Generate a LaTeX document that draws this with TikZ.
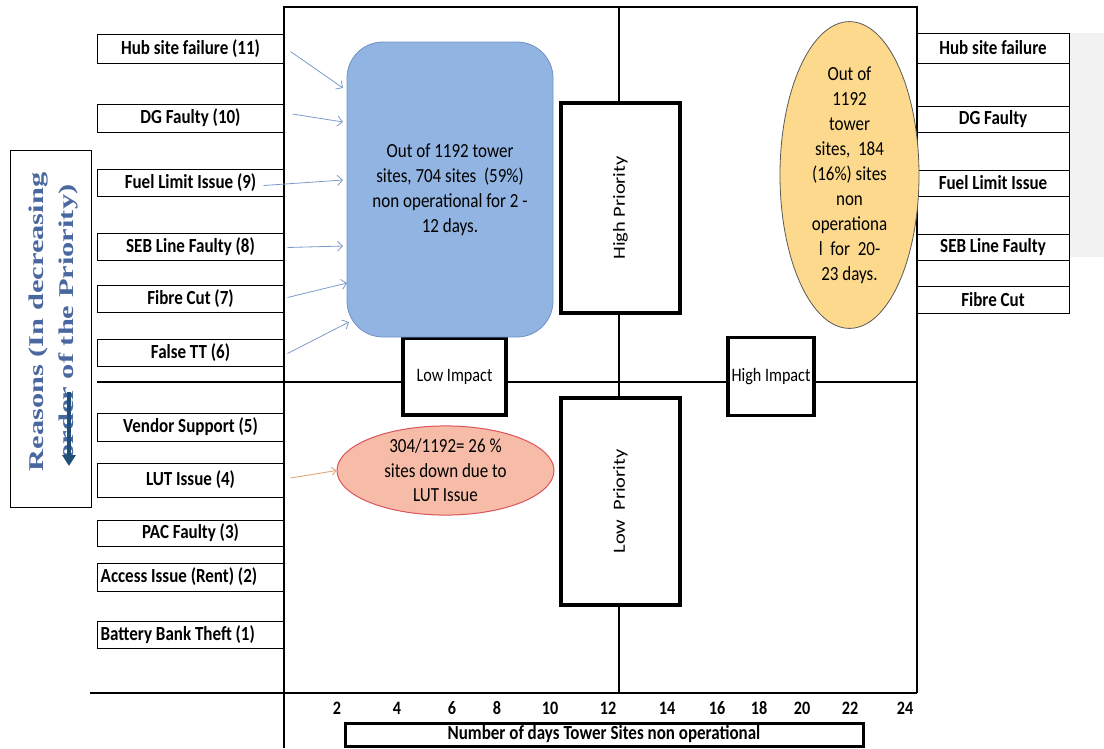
\documentclass[tikz,border=0pt]{standalone}
\usepackage{fontspec}
\setmainfont{Carlito}[FakeStretch=0.85]
\newfontfamily\rotfont{Carlito}[FakeStretch=1.2]
\newfontfamily\reasonfont{Liberation Serif}[FakeStretch=1.45]
\usepackage{tikz}
\usetikzlibrary{shapes,arrows.meta,positioning,fit,calc}
\definecolor{boxblue}{RGB}{146,180,226}
\definecolor{boxblueline}{RGB}{112,146,196}
\definecolor{arrblue}{RGB}{125,155,200}
\definecolor{ovyellow}{RGB}{252,217,140}
\definecolor{ovred}{RGB}{246,188,168}
\definecolor{ovredline}{RGB}{222,82,92}
\definecolor{lutarr}{RGB}{224,168,120}
\definecolor{reasonblue}{RGB}{74,104,160}
\definecolor{darkarr}{RGB}{31,78,121}
\tikzset{
	lblbox/.style={rectangle, draw=black, line width=1pt, minimum width=187pt, inner sep=0pt,
		font=\fontsize{20}{24}\selectfont\bfseries},
	lbltxt/.style={anchor=west, inner sep=0pt, font=\fontsize{20}{24}\selectfont\bfseries},
	sidebox/.style={rectangle, draw=black, line width=1pt, minimum width=152pt, inner sep=0pt,
		font=\fontsize{20}{24}\selectfont\bfseries},
	quadbox/.style={rectangle, draw=black, fill=white, line width=3.4pt, inner sep=0pt,
		font=\fontsize{19}{24}\selectfont},
	prio/.style={font=\rotfont\fontsize{17}{20}\selectfont, rotate=90, inner sep=0pt},
	daynum/.style={font=\fontsize{19}{22}\selectfont\bfseries, inner sep=0pt},
	infotxt/.style={align=center, inner sep=0pt, font=\fontsize{20}{25}\selectfont},
	causearr/.style={-{Straight Barb[length=5pt,width=10pt]}, line width=0.8pt, arrblue}
}
\begin{document}
\begin{tikzpicture}[x=1pt,y=-1pt]
			\useasboundingbox (0,0) rectangle (1104,748);
			% frame of the chart
			\fill[gray!10] (1069,33) rectangle (1104,257);
			\draw[line width=1.4pt] (284,748) -- (284,7) -- (917,7) -- (917,693);
			\draw[line width=1.4pt] (90,693) -- (917,693);
			\draw[line width=1.4pt] (97,382) -- (917,382);
			\draw[line width=1.4pt] (619,7) -- (619,693);
			% reasons, left side
			\node[lblbox, minimum height=29pt] (l11) at (190.5,48.5) {Hub site failure (11)};
			\node[lblbox, minimum height=28pt] (l10) at (190.5,118) {DG Faulty (10)};
			\node[lblbox, minimum height=27pt] (l9) at (190.5,182.5) {Fuel Limit Issue (9)};
			\node[lblbox, minimum height=27pt] (l8) at (190.5,246.5) {SEB Line Faulty (8)};
			\node[lblbox, minimum height=27pt] (l7) at (190.5,298.5) {Fibre Cut (7)};
			\node[lblbox, minimum height=27pt] (l6) at (190.5,352.5) {False TT (6)};
			\node[lblbox, minimum height=28pt] (l5) at (190.5,427) {Vendor Support (5)};
			\node[lblbox, minimum height=34pt] (l4) at (190.5,480) {LUT Issue (4)};
			\node[lblbox, minimum height=26pt] (l3) at (190.5,533) {PAC Faulty (3)};
			\node[lblbox, minimum height=28pt] (l2) at (190.5,577) {};
			\node[lbltxt] (l2txt) at ([xshift=4pt]l2.west) {Access Issue (Rent) (2)};
			\node[lblbox, minimum height=27pt] (l1) at (190.5,634.5) {};
			\node[lbltxt] (l1txt) at ([xshift=4pt]l1.west) {Battery Bank Theft (1)};
			% vertical caption
			\node[rectangle, draw=black, line width=1pt, minimum width=81pt, minimum height=357pt] (reasonbox) at (50.5,328.5) {};
			\node[font=\reasonfont\bfseries\fontsize{21}{30}\selectfont, text=reasonblue, rotate=90, align=center, inner sep=0pt]
				(reasons) at (53,322) {Reasons (In decreasing\\order of the Priority)};
			\coordinate (downa) at (69,392);
			\coordinate (downb) at (69,466);
			\draw[-{Triangle[length=11pt,width=13pt]}, line width=4.5pt, darkarr] (downa) -- (downb);
			% reasons, right side
			\draw[line width=1pt] (917,33) rectangle (1069,313);
			\node[sidebox, minimum height=30pt] (rhub) at (993,48) {Hub site failure};
			\node[sidebox, minimum height=26pt] (rdg) at (993,119) {DG Faulty};
			\node[sidebox, minimum height=26pt] (rfuel) at (993,183) {Fuel Limit Issue};
			\node[sidebox, minimum height=26pt] (rseb) at (993,247) {SEB Line Faulty};
			\node[sidebox, minimum height=27pt] (rfibre) at (993,299.5) {Fibre Cut};
			% priority and impact boxes
			\node[quadbox, minimum width=119pt, minimum height=210pt] (hiprio) at (620.5,208) {};
			\node[prio] at (hiprio.center) {High Priority};
			\node[quadbox, minimum width=119pt, minimum height=207pt] (loprio) at (620.5,501.5) {};
			\node[prio] at (loprio.center) {Low\ \ Priority};
			\node[quadbox, minimum width=103pt, minimum height=77pt] (loimp) at (454.5,376.5) {Low Impact};
			\node[quadbox, minimum width=86pt, minimum height=78pt] (hiimp) at (771,376.5) {High Impact};
			% summaries
			\node[rectangle, rounded corners=36pt, draw=boxblueline, fill=boxblue, line width=0.8pt,
				minimum width=206pt, minimum height=295pt, infotxt] (blue) at (450,189.5)
				{Out of 1192 tower\\sites, 704 sites\ \ (59\%)\\non operational for 2 -\\12 days.};
			\node[ellipse, draw=gray!70!black, fill=ovyellow, line width=0.8pt,
				minimum width=139pt, minimum height=280pt, infotxt] (yellow) at (849.5,175)
				{Out of\\1192\\tower\\sites,\ \ 184\\(16\%) sites\\non\\operationa\\l\ \ for\ \ 20-\\23 days.};
			\node[ellipse, draw=ovredline, fill=ovred, line width=1pt,
				minimum width=217pt, minimum height=77pt, infotxt, font=\fontsize{20}{24.5}\selectfont] (red) at (445.5,470.5)
				{304/1192= 26 \%\\sites down due to\\LUT Issue};
			% cause arrows
			\coordinate (h11) at (343,88);
			\coordinate (h10) at (343,122);
			\coordinate (h9) at (343,180);
			\coordinate (h8) at (343,246);
			\coordinate (h7) at (347,283);
			\coordinate (h6) at (349,322);
			\draw[causearr] ([xshift=6pt,yshift=-3pt]l11.east) -- (h11);
			\draw[causearr] ([xshift=8pt,yshift=4pt]l10.east) -- (h10);
			\draw[causearr] ([xshift=-21pt,yshift=-3pt]l9.east) -- (h9);
			\draw[causearr] ([xshift=3pt,yshift=-1pt]l8.east) -- (h8);
			\draw[causearr] ([xshift=3pt,yshift=1pt]l7.east) -- (h7);
			\draw[causearr] ([xshift=3pt,yshift=-1pt]l6.east) -- (h6);
			\draw[-{Straight Barb[length=4pt,width=8pt]}, line width=0.9pt, lutarr] ([xshift=6pt,yshift=2pt]l4.east) -- (red.west);
			% days axis
			\node[daynum] (d2) at (337,708) {2};
			\node[daynum] (d4) at (397,708) {4};
			\node[daynum] (d6) at (452,708) {6};
			\node[daynum] (d8) at (497,708) {8};
			\node[daynum] (d10) at (550,708) {10};
			\node[daynum] (d12) at (608,708) {12};
			\node[daynum] (d14) at (667,708) {14};
			\node[daynum] (d16) at (717,708) {16};
			\node[daynum] (d18) at (759,708) {18};
			\node[daynum] (d20) at (802,708) {20};
			\node[daynum] (d22) at (850,708) {22};
			\node[daynum] (d24) at (905,708) {24};
			\node[rectangle, draw=black, line width=3pt, minimum width=518pt, minimum height=23pt, inner sep=0pt,
				font=\fontsize{20}{22}\selectfont\bfseries] (daystitle) at (604,734.5) {Number of days Tower Sites non operational};
		\end{tikzpicture}
\end{document}
